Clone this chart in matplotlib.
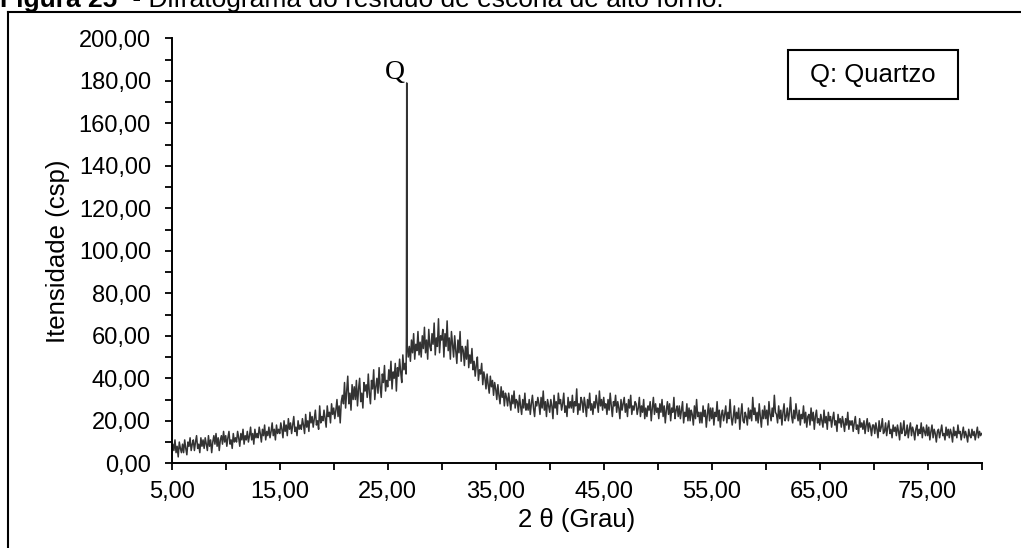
import numpy as np
import matplotlib
matplotlib.use("Agg")
import matplotlib.pyplot as plt
from matplotlib.ticker import FuncFormatter, MultipleLocator
from matplotlib.patches import Rectangle
from matplotlib.lines import Line2D

# 2 theta grid (degrees), one reading every 0.1
two_theta = np.round(np.arange(5.0, 80.0001, 0.1), 1)

# intensity (csp), one row = 1 degree
intensity = [
    4, 9, 6, 11, 5, 8, 3, 10, 7, 5,             # 5
    9, 5, 11, 7, 4, 10, 8, 12, 6, 9,            # 6
    11, 6, 10, 13, 7, 9, 5, 12, 8, 11,          # 7
    7, 12, 9, 6, 13, 8, 11, 5, 10, 13,          # 8
    9, 14, 8, 12, 6, 11, 13, 9, 15, 10,         # 9
    13, 8, 12, 15, 9, 11, 7, 14, 10, 12,        # 10
    10, 15, 12, 8, 14, 11, 16, 9, 13, 11,       # 11
    15, 10, 13, 17, 11, 14, 9, 16, 12, 14,      # 12
    12, 17, 14, 10, 16, 13, 18, 11, 15, 13,     # 13
    17, 12, 15, 19, 13, 16, 11, 18, 14, 16,     # 14
    14, 19, 16, 12, 20, 15, 18, 13, 21, 16,     # 15
    19, 14, 18, 22, 15, 17, 13, 20, 16, 18,     # 16
    16, 21, 18, 14, 23, 17, 20, 15, 24, 19,     # 17
    22, 17, 21, 25, 18, 20, 16, 27, 19, 22,     # 18
    20, 25, 21, 17, 27, 22, 24, 19, 28, 23,     # 19
    26, 21, 25, 30, 22, 27, 19, 29, 32, 28,     # 20
    38, 26, 34, 41, 28, 33, 25, 37, 30, 36,     # 21
    30, 39, 27, 35, 40, 29, 33, 26, 38, 34,     # 22
    37, 31, 42, 33, 28, 39, 35, 44, 30, 36,     # 23
    40, 33, 45, 36, 31, 42, 38, 46, 34, 39,     # 24
    36, 44, 39, 48, 35, 43, 40, 47, 34, 45,     # 25
    41, 49, 43, 38, 51, 44, 47, 42, 56, 50,     # 26
    55, 48, 58, 52, 61, 49, 56, 53, 62, 51,     # 27
    57, 50, 60, 54, 64, 52, 58, 49, 63, 55,     # 28
    53, 61, 56, 66, 51, 59, 55, 68, 52, 60,     # 29
    58, 63, 50, 61, 55, 67, 53, 59, 49, 62,     # 30
    56, 50, 60, 53, 47, 58, 52, 62, 48, 55,     # 31
    53, 46, 55, 49, 58, 45, 51, 47, 54, 44,     # 32
    48, 41, 46, 50, 39, 44, 42, 47, 37, 43,     # 33
    40, 35, 42, 37, 33, 41, 36, 39, 32, 38,     # 34
    35, 30, 37, 32, 28, 36, 31, 34, 27, 33,     # 35
    31, 27, 33, 29, 25, 32, 28, 34, 26, 30,     # 36
    29, 24, 32, 27, 23, 30, 26, 33, 25, 28,     # 37
    25, 30, 23, 28, 32, 26, 22, 29, 27, 31,     # 38
    28, 23, 31, 26, 34, 25, 29, 22, 30, 27,     # 39
    24, 30, 27, 21, 32, 26, 29, 23, 33, 28,     # 40
    30, 25, 28, 33, 24, 27, 22, 31, 26, 29,     # 41
    26, 32, 24, 29, 27, 35, 23, 28, 25, 31,     # 42
    29, 24, 31, 27, 22, 30, 26, 33, 25, 28,     # 43
    23, 29, 26, 32, 28, 24, 34, 27, 30, 25,     # 44
    31, 26, 28, 23, 30, 25, 33, 27, 22, 29,     # 45
    27, 32, 24, 29, 26, 21, 30, 25, 28, 31,     # 46
    24, 28, 22, 30, 26, 32, 23, 27, 25, 29,     # 47
    28, 23, 26, 31, 22, 27, 24, 30, 21, 26,     # 48
    22, 27, 25, 29, 20, 26, 31, 23, 28, 24,     # 49
    26, 21, 28, 24, 30, 22, 27, 19, 25, 29,     # 50
    23, 28, 20, 26, 24, 31, 21, 25, 27, 22,     # 51
    27, 21, 25, 29, 19, 24, 22, 28, 20, 26,     # 52
    20, 25, 23, 18, 27, 21, 30, 22, 24, 19,     # 53
    24, 19, 27, 22, 25, 17, 23, 28, 20, 26,     # 54
    21, 26, 18, 24, 22, 29, 20, 25, 17, 23,     # 55
    25, 20, 23, 27, 19, 24, 21, 30, 22, 18,     # 56
    22, 27, 19, 24, 21, 26, 16, 23, 28, 20,     # 57
    19, 24, 22, 18, 26, 21, 25, 20, 31, 23,     # 58
    26, 20, 24, 19, 28, 22, 17, 25, 21, 27,     # 59
    21, 25, 18, 29, 23, 20, 26, 22, 32, 24,     # 60
    23, 19, 27, 21, 25, 18, 24, 28, 20, 22,     # 61
    26, 20, 24, 31, 22, 19, 25, 21, 28, 23,     # 62
    20, 25, 18, 23, 21, 27, 19, 24, 17, 22,     # 63
    23, 18, 26, 20, 24, 16, 22, 25, 19, 21,     # 64
    18, 23, 20, 17, 25, 19, 22, 16, 24, 20,     # 65
    22, 17, 21, 24, 18, 20, 15, 23, 19, 21,     # 66
    17, 22, 19, 15, 21, 18, 24, 16, 20, 18,     # 67
    20, 15, 19, 22, 16, 18, 14, 21, 17, 19,     # 68
    16, 20, 14, 18, 21, 15, 19, 17, 13, 18,     # 69
    18, 14, 19, 16, 12, 20, 15, 17, 21, 14,     # 70
    15, 19, 13, 17, 20, 14, 16, 12, 18, 15,     # 71
    17, 13, 18, 15, 11, 19, 14, 16, 20, 13,     # 72
    14, 18, 12, 16, 19, 13, 17, 15, 11, 16,     # 73
    18, 13, 16, 14, 19, 12, 17, 15, 13, 18,     # 74
    13, 17, 11, 15, 18, 12, 16, 14, 10, 15,     # 75
    16, 12, 15, 18, 13, 14, 11, 17, 13, 16,     # 76
    12, 16, 14, 10, 17, 13, 15, 12, 18, 14,     # 77
    15, 11, 14, 17, 12, 15, 13, 10, 16, 13,     # 78
    12, 16, 13, 15, 11, 14, 17, 12, 15, 13,     # 79
    14,                                         # 80
]

# quartz reflection
peak_theta = [26.73, 26.76, 26.79]
peak_intensity = [60, 179, 57]

x_ticks = [5, 15, 25, 35, 45, 55, 65, 75]

x = np.concatenate([two_theta, peak_theta])
y = np.concatenate([np.array(intensity, dtype=float), peak_intensity])
order = np.argsort(x, kind="stable")
x, y = x[order], y[order]

plt.rcParams["font.family"] = ["Liberation Sans", "DejaVu Sans"]

fig = plt.figure(figsize=(10.21, 5.48), dpi=100)
ax = fig.add_axes([0.1682, 0.1546, 0.7933, 0.7755])

ax.plot(x, y, color="#333333", linewidth=1.1)

ax.set_xlim(5, 80)
ax.set_ylim(0, 200)

for s in ["top", "right"]:
    ax.spines[s].set_visible(False)
for s in ["left", "bottom"]:
    ax.spines[s].set_linewidth(1.4)

comma = FuncFormatter(lambda v, p: f"{v:.2f}".replace(".", ","))
ax.set_xticks(x_ticks)
ax.xaxis.set_minor_locator(MultipleLocator(5))
ax.yaxis.set_major_locator(MultipleLocator(20))
ax.yaxis.set_minor_locator(MultipleLocator(10))
ax.xaxis.set_major_formatter(comma)
ax.yaxis.set_major_formatter(comma)
ax.tick_params(which="both", direction="out", length=5, width=1.3, color="black")
ax.tick_params(axis="x", labelsize=17, pad=8)
ax.tick_params(axis="y", labelsize=17, pad=10)

ax.set_xlabel("2 θ (Grau)", fontsize=18.5)
ax.set_ylabel("Itensidade (csp)", fontsize=18.5)
ax.xaxis.set_label_coords(0.5, -0.105)
ax.yaxis.set_label_coords(-0.125, 0.5)

ax.text(25.7, 184, "Q", fontsize=20, family="Liberation Serif", ha="center", va="center")

ax.add_patch(Rectangle((0.7605, 0.8565), 0.2106, 0.116, transform=ax.transAxes,
                       fill=False, edgecolor="black", linewidth=1.5, clip_on=False))
ax.text(0.8658, 0.9145, "Q: Quartzo", transform=ax.transAxes, fontsize=18.5,
        ha="center", va="center")

# frame round the figure, caption above it (cut at the top edge as in the source)
fig.add_artist(Line2D([7.5 / 1021, 7.5 / 1021], [0, 1 - 11.7 / 548], color="black", linewidth=1.5))
fig.add_artist(Line2D([7.5 / 1021, 1], [1 - 11.7 / 548, 1 - 11.7 / 548], color="black", linewidth=1.5))

fig.text(0.0, 1 - 7 / 548, "Figura 25", fontsize=19, fontweight="bold", va="baseline", ha="left")
fig.text(125 / 1021, 1 - 7 / 548, " - Difratograma do resíduo de escória de alto forno.",
         fontsize=19, va="baseline", ha="left")

fig.savefig("out.png", dpi=100)
